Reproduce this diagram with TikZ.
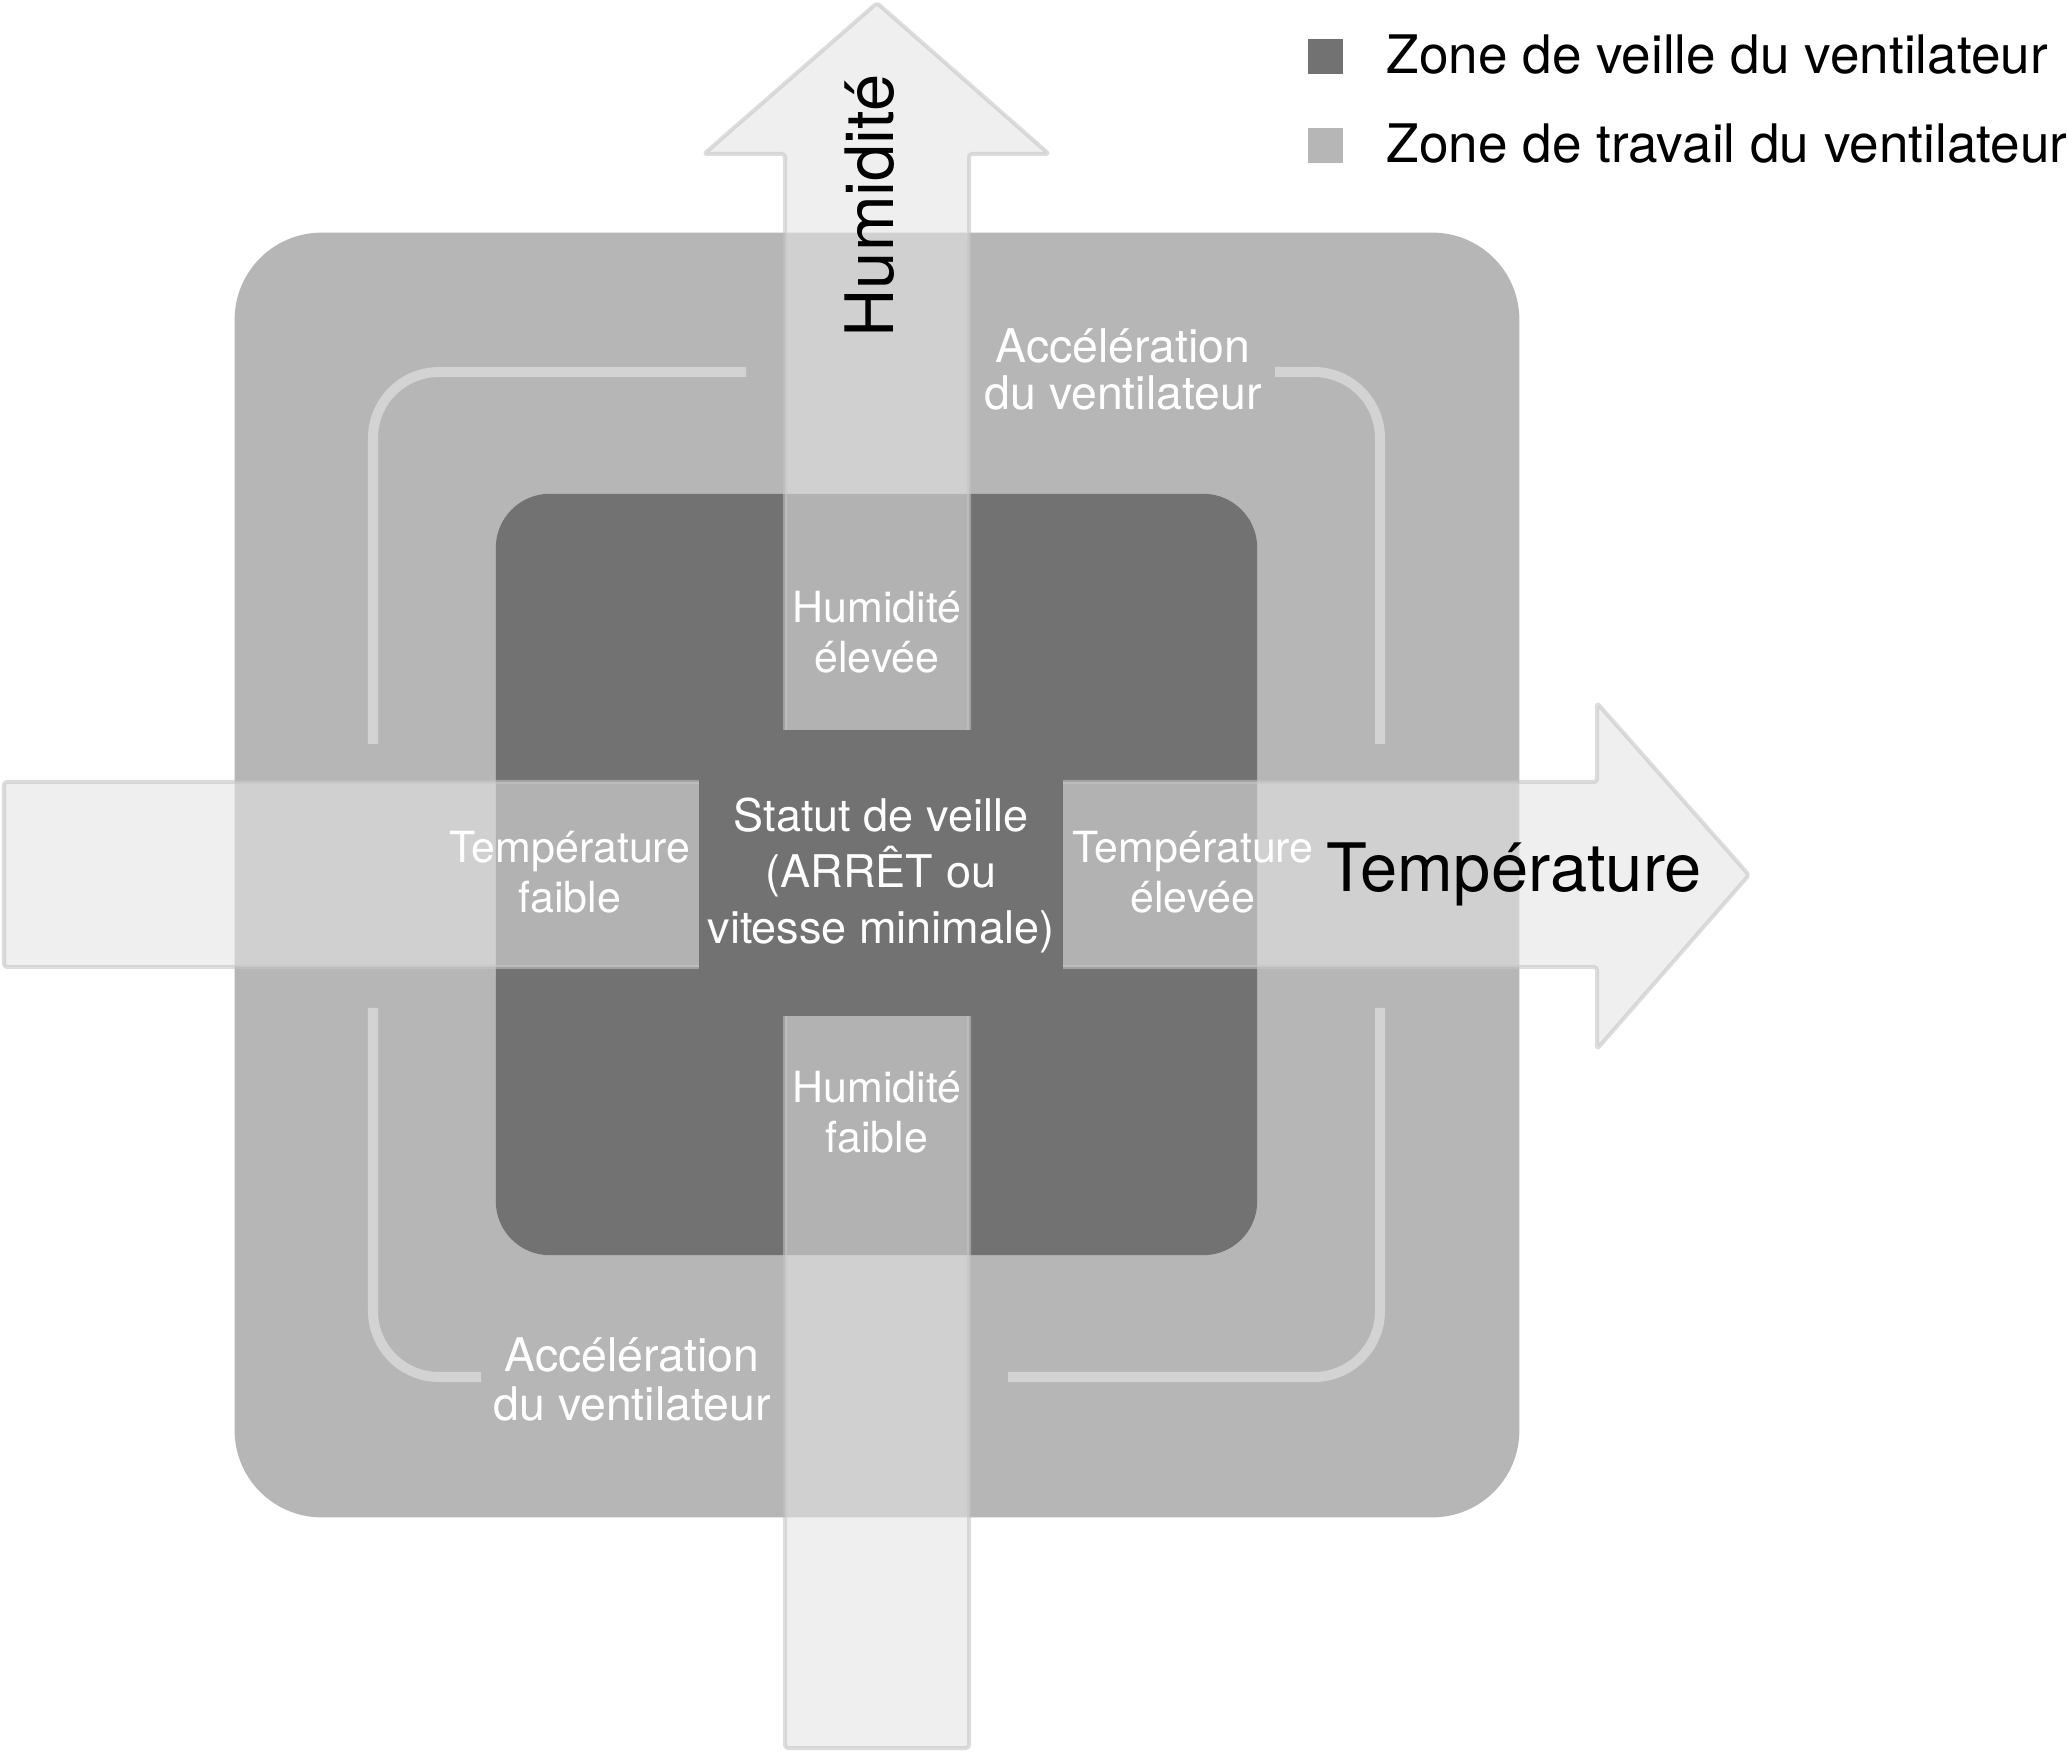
\documentclass[tikz,border=0pt]{standalone}
\usepackage{fontspec}
\setmainfont{TeX Gyre Heros}
\definecolor{outerg}{HTML}{B5B6B5}
\definecolor{innerd}{HTML}{727272}
\definecolor{brk}{HTML}{D3D3D3}
\definecolor{arrfill}{HTML}{E4E4E4}
\definecolor{arredge}{HTML}{C4C4C4}
\begin{document}
\begin{tikzpicture}[x=0.01cm,y=-0.01cm,
  lbl/.style={text=white,inner sep=0pt,anchor=base,font=\fontsize{12.2}{14}\selectfont},
  acc/.style={text=white,inner sep=0pt,anchor=base,font=\fontsize{13.2}{15}\selectfont},
  stat/.style={text=white,inner sep=0pt,anchor=base,font=\fontsize{12.8}{15}\selectfont},
  big/.style={text=black,inner sep=0pt,font=\fontsize{19}{22}\selectfont},
  leg/.style={text=black,inner sep=0pt,anchor=base west,font=\fontsize{15.1}{17}\selectfont},
  bracket/.style={draw=brk,line width=0.1cm,rounded corners=0.66cm},
  axisarrow/.style={fill=arrfill,draw=arredge,fill opacity=0.57,draw opacity=0.57,line width=0.04cm,rounded corners=0.03cm,line join=round},
  zone/.style={inner sep=0pt,outer sep=0pt}]

\fill[white] (0,0) rectangle (2068,1752);
\useasboundingbox (0,0) rectangle (2068,1752);

% working zone
\node[zone,fill=outerg,rounded corners=0.87cm,minimum size=12.84cm] (work) at (877,875) {};
\draw[bracket] (373,744) -- (373,372) -- (746,372);
\draw[bracket] (1275,372) -- (1380,372) -- (1380,744);
\draw[bracket] (373,1008) -- (373,1377) -- (481,1377);
\draw[bracket] (1008,1377) -- (1380,1377) -- (1380,1008);

% standby zone
\node[zone,fill=innerd,rounded corners=0.54cm,minimum size=7.61cm] (standby) at (876.5,874.5) {};

% axes
\draw[axisarrow] (785,1748) -- (785,154) -- (704,154) -- (877,3) -- (1049,154) -- (969,154) -- (969,1748) -- cycle;
\draw[axisarrow] (4,782) -- (1597,782) -- (1597,703) -- (1749,875) -- (1597,1049) -- (1597,967) -- (4,967) -- cycle;

% centre
\node[zone,fill=innerd,minimum width=3.64cm,minimum height=2.86cm] (centre) at (881,873) {};

% labels
\node[big,rotate=90,anchor=base] (hum) at (893,206) {Humidité};
\node[big,anchor=base] (temp) at (1514,892) {Température};

\node[acc] (accTRa) at (1123,363) {Accélération};
\node[acc] (accTRb) at (1123,410) {du ventilateur};
\node[acc] (accBLa) at (632,1372) {Accélération};
\node[acc] (accBLb) at (632,1420) {du ventilateur};

\node[lbl] (hhA) at (877,623) {Humidité};
\node[lbl] (hhB) at (877,673) {élevée};
\node[lbl] (hfA) at (877,1103) {Humidité};
\node[lbl] (hfB) at (877,1153) {faible};
\node[lbl] (tfA) at (570,863) {Température};
\node[lbl] (tfB) at (570,913) {faible};
\node[lbl] (teA) at (1193,863) {Température};
\node[lbl] (teB) at (1193,913) {élevée};

\node[stat] (sA) at (881,832) {Statut de veille};
\node[stat] (sB) at (881,888) {(ARRÊT ou};
\node[stat] (sC) at (881,944) {vitesse minimale)};

% legend
\node[zone,fill=innerd,minimum size=0.35cm] (legd) at (1325.5,56.5) {};
\node[zone,fill=outerg,minimum size=0.35cm] (legw) at (1325.5,145.5) {};
\node[leg] (legdt) at (1386,74) {Zone de veille du ventilateur};
\node[leg] (legwt) at (1386,163) {Zone de travail du ventilateur};
\end{tikzpicture}
\end{document}
